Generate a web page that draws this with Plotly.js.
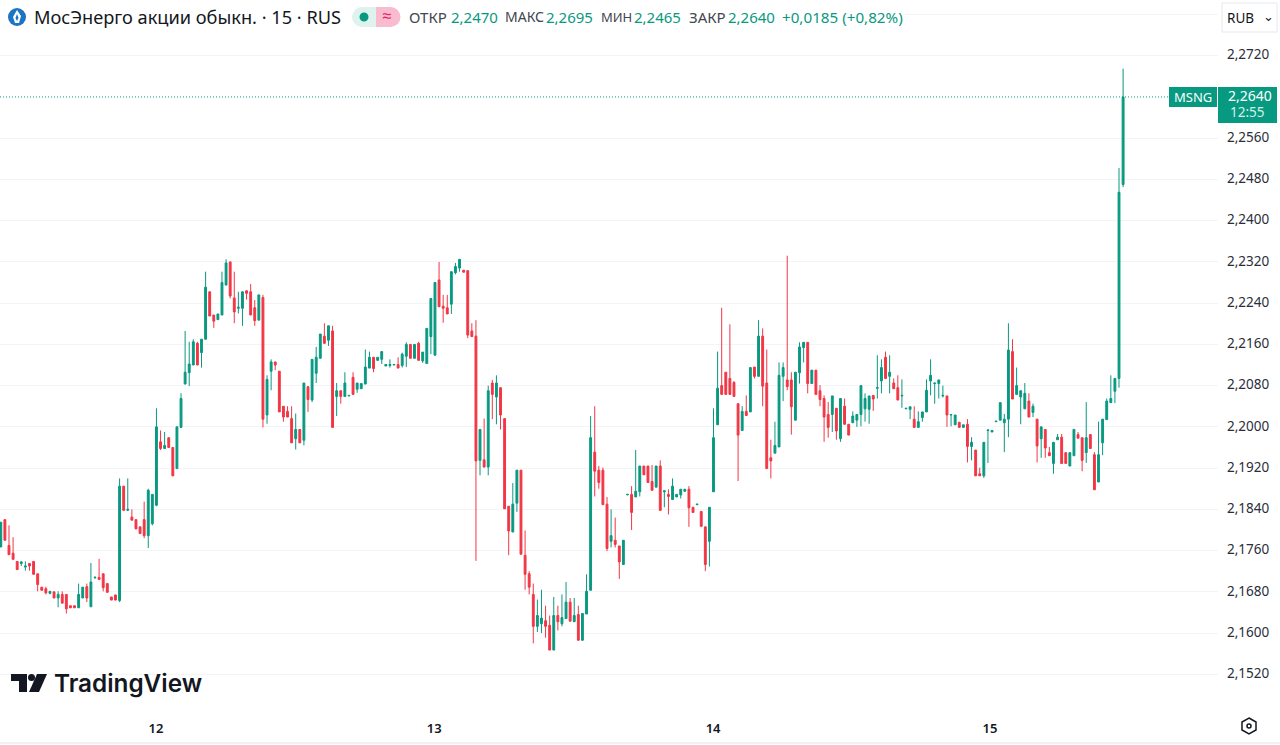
<!DOCTYPE html>
<html><head><meta charset="utf-8">
<script src="https://cdn.plot.ly/plotly-3.0.1.min.js"></script>
<style>html,body{margin:0;padding:0;background:#fff;overflow:hidden}#c{width:1280px;height:745px}</style>
</head><body><div id="c"></div>
<script>
const opens=[
2.1767,2.1820,2.1770,2.1755,2.1739,2.1735,2.1728,2.1735,2.1739,2.1715,
2.1689,2.1686,2.1677,2.1680,2.1668,2.1675,2.1675,2.1653,2.1653,2.1649,
2.1668,2.1690,2.1651,2.1707,2.1708,2.1715,2.1696,2.1670,2.1674,2.1663,
2.1885,2.1838,2.1825,2.1820,2.1806,2.1820,2.1789,2.1812,2.1848,2.1971,
2.1958,2.1979,2.1960,2.1919,2.1999,2.2083,2.2105,2.2120,2.2162,2.2144,
2.2170,2.2262,2.2217,2.2208,2.2217,2.2275,2.2320,2.2250,2.2230,2.2230,
2.2264,2.2262,2.2231,2.2207,2.2251,2.2023,2.2108,2.2126,2.2108,2.2040,
2.2030,2.2016,2.1977,2.1995,2.1974,2.2078,2.2052,2.2104,2.2133,2.2176,
2.2168,2.2186,2.2059,2.2070,2.2059,2.2060,2.2096,2.2073,2.2074,2.2083,
2.2114,2.2135,2.2129,2.2131,2.2118,2.2119,2.2120,2.2121,2.2119,2.2137,
2.2160,2.2133,2.2162,2.2128,2.2123,2.2175,2.2139,2.2285,2.2234,2.2231,
2.2238,2.2299,2.2308,2.2304,2.2303,2.2186,2.2176,2.1935,2.1936,2.1922,
2.2085,2.2058,2.2076,2.2016,2.1846,2.1796,2.1852,2.1916,2.1751,2.1715,
2.1675,2.1613,2.1618,2.1624,2.1615,2.1567,2.1634,2.1618,2.1628,2.1660,
2.1622,2.1636,2.1586,2.1637,2.1683,2.1951,2.1916,2.1916,2.1850,2.1778,
2.1780,2.1769,2.1733,2.1868,2.1869,2.1864,2.1874,2.1924,2.1924,2.1894,
2.1883,2.1924,2.1874,2.1869,2.1859,2.1864,2.1868,2.1875,2.1879,2.1844,
2.1849,2.1836,2.1806,2.1778,2.1874,2.2004,2.2080,2.2106,2.2094,2.2086,
2.2045,2.1993,2.2030,2.2029,2.2116,2.2098,2.2176,2.2085,2.1940,2.1949,
2.1961,2.2098,2.2091,2.2091,2.2013,2.2105,2.2154,2.2164,2.2084,2.2110,
2.2070,2.2055,2.2024,2.2024,2.2036,2.1977,2.2040,2.2005,2.2008,2.2013,
2.2024,2.2035,2.2034,2.2061,2.2075,2.2089,2.2135,2.2098,2.2085,2.2076,
2.2060,2.2035,2.2034,2.2015,2.1999,2.2018,2.2029,2.2089,2.2084,2.2084,
2.2060,2.2060,2.2023,2.2004,2.2009,2.1999,2.2005,2.1962,2.1955,2.1909,
2.1905,2.1993,2.1990,2.2010,2.2013,2.2008,2.2015,2.2146,2.2063,2.2058,
2.2035,2.2050,2.2028,2.2015,2.1977,2.1995,2.1950,2.1929,2.1975,2.1980,
2.1950,2.1924,2.1944,2.1985,2.1979,2.1950,2.1985,2.1946,2.1893,2.1969,
2.2014,2.2047,2.2069,2.2094,2.2470];
const highs=[
2.1815,2.1820,2.1809,2.1786,2.1739,2.1739,2.1739,2.1735,2.1739,2.1715,
2.1689,2.1690,2.1681,2.1680,2.1681,2.1681,2.1675,2.1653,2.1653,2.1696,
2.1689,2.1696,2.1736,2.1710,2.1744,2.1715,2.1696,2.1670,2.1674,2.1900,
2.1885,2.1900,2.1840,2.1820,2.1806,2.1855,2.1880,2.1869,2.2036,2.1993,
2.1990,2.1979,2.1960,2.2000,2.2065,2.2186,2.2165,2.2170,2.2165,2.2170,
2.2301,2.2262,2.2217,2.2219,2.2301,2.2325,2.2320,2.2301,2.2262,2.2262,
2.2264,2.2277,2.2246,2.2256,2.2256,2.2100,2.2131,2.2126,2.2108,2.2040,
2.2040,2.2040,2.2026,2.1995,2.2085,2.2078,2.2131,2.2155,2.2180,2.2201,
2.2196,2.2196,2.2085,2.2070,2.2106,2.2061,2.2106,2.2085,2.2084,2.2150,
2.2146,2.2135,2.2135,2.2146,2.2121,2.2131,2.2121,2.2135,2.2144,2.2164,
2.2160,2.2160,2.2165,2.2145,2.2191,2.2249,2.2280,2.2320,2.2256,2.2256,
2.2301,2.2318,2.2325,2.2304,2.2303,2.2201,2.2207,2.1995,2.2016,2.2080,
2.2091,2.2100,2.2076,2.2016,2.1846,2.1891,2.1916,2.1916,2.1799,2.1720,
2.1696,2.1665,2.1684,2.1653,2.1634,2.1670,2.1653,2.1675,2.1699,2.1668,
2.1668,2.1653,2.1638,2.1714,2.2021,2.2040,2.1924,2.1921,2.1864,2.1840,
2.1824,2.1769,2.1780,2.1869,2.1885,2.1955,2.1924,2.1924,2.1924,2.1926,
2.1924,2.1935,2.1876,2.1879,2.1900,2.1869,2.1879,2.1879,2.1885,2.1844,
2.1850,2.1836,2.1806,2.1844,2.2036,2.2146,2.2231,2.2106,2.2199,2.2089,
2.2045,2.2040,2.2061,2.2115,2.2116,2.2207,2.2191,2.2150,2.1975,2.2010,
2.2125,2.2125,2.2332,2.2106,2.2106,2.2164,2.2164,2.2164,2.2110,2.2110,
2.2081,2.2061,2.2048,2.2060,2.2036,2.2055,2.2055,2.2005,2.2030,2.2024,
2.2080,2.2065,2.2060,2.2061,2.2139,2.2131,2.2146,2.2139,2.2094,2.2100,
2.2092,2.2036,2.2039,2.2040,2.2030,2.2029,2.2092,2.2131,2.2085,2.2091,
2.2080,2.2060,2.2024,2.2023,2.2009,2.2004,2.2015,2.1980,2.1955,2.1921,
2.1970,2.1994,2.1993,2.2011,2.2047,2.2025,2.2201,2.2170,2.2115,2.2070,
2.2085,2.2065,2.2045,2.2015,2.2000,2.1995,2.1961,2.1970,2.1986,2.1986,
2.1950,2.1950,2.1995,2.1990,2.1979,2.2048,2.1985,2.1951,2.2010,2.2015,
2.2055,2.2100,2.2094,2.2502,2.2695];
const lows=[
2.1767,2.1780,2.1752,2.1743,2.1723,2.1730,2.1721,2.1721,2.1714,2.1681,
2.1683,2.1675,2.1675,2.1668,2.1650,2.1658,2.1638,2.1649,2.1649,2.1649,
2.1668,2.1660,2.1651,2.1706,2.1704,2.1681,2.1679,2.1664,2.1664,2.1660,
2.1838,2.1838,2.1819,2.1802,2.1793,2.1784,2.1765,2.1809,2.1846,2.1955,
2.1958,2.1960,2.1905,2.1919,2.1999,2.2083,2.2079,2.2120,2.2120,2.2115,
2.2170,2.2215,2.2192,2.2208,2.2217,2.2275,2.2249,2.2201,2.2220,2.2196,
2.2247,2.2217,2.2196,2.2207,2.1999,2.2006,2.2071,2.2110,2.2029,2.2010,
2.2019,2.1969,2.1956,2.1969,2.1964,2.2029,2.2048,2.2085,2.2133,2.2162,
2.2157,2.1999,2.2021,2.2045,2.2059,2.2060,2.2063,2.2066,2.2074,2.2083,
2.2114,2.2106,2.2129,2.2122,2.2118,2.2115,2.2120,2.2114,2.2115,2.2116,
2.2133,2.2133,2.2129,2.2124,2.2123,2.2141,2.2139,2.2233,2.2202,2.2219,
2.2219,2.2296,2.2301,2.2300,2.2172,2.2175,2.1740,2.1906,2.1922,2.1906,
2.2015,2.2005,2.1995,2.1841,2.1751,2.1796,2.1835,2.1753,2.1684,2.1675,
2.1580,2.1602,2.1600,2.1591,2.1567,2.1567,2.1605,2.1613,2.1628,2.1623,
2.1622,2.1586,2.1586,2.1637,2.1683,2.1865,2.1880,2.1849,2.1759,2.1766,
2.1766,2.1705,2.1733,2.1868,2.1800,2.1864,2.1865,2.1907,2.1892,2.1877,
2.1883,2.1838,2.1844,2.1830,2.1859,2.1864,2.1861,2.1875,2.1806,2.1834,
2.1849,2.1807,2.1720,2.1729,2.1874,2.2004,2.2063,2.2063,2.2063,2.2059,
2.1895,2.1993,2.2022,2.2029,2.2094,2.2098,2.2040,2.1919,2.1900,2.1949,
2.1961,2.2050,2.2071,2.1985,2.2013,2.2084,2.2125,2.2065,2.2084,2.2063,
2.2040,2.1971,2.1979,2.1990,2.1975,2.1971,2.2005,2.1984,2.2008,2.2000,
2.2001,2.2010,2.2006,2.2031,2.2055,2.2065,2.2094,2.2065,2.2074,2.2052,
2.2037,2.2035,2.2015,2.1999,2.1999,2.2010,2.2029,2.2061,2.2045,2.2055,
2.2057,2.2000,2.2001,2.2004,2.1999,2.1999,2.1931,2.1935,2.1905,2.1905,
2.1901,2.1930,2.1990,2.2010,2.2013,2.1951,2.1980,2.2054,2.2063,2.2005,
2.2035,2.2019,2.2019,2.1931,2.1940,2.1940,2.1944,2.1909,2.1975,2.1929,
2.1929,2.1924,2.1944,2.1978,2.1914,2.1930,2.1958,2.1878,2.1893,2.1945,
2.2014,2.2047,2.2046,2.2076,2.2465];
const closes=[
2.1815,2.1780,2.1752,2.1743,2.1723,2.1738,2.1730,2.1730,2.1714,2.1694,
2.1683,2.1678,2.1681,2.1668,2.1675,2.1658,2.1647,2.1649,2.1649,2.1675,
2.1689,2.1668,2.1699,2.1708,2.1704,2.1688,2.1679,2.1664,2.1664,2.1885,
2.1838,2.1840,2.1819,2.1802,2.1793,2.1789,2.1877,2.1869,2.2000,2.1958,
2.1964,2.1960,2.1905,2.2000,2.2055,2.2106,2.2122,2.2165,2.2120,2.2170,
2.2271,2.2215,2.2205,2.2219,2.2280,2.2318,2.2254,2.2223,2.2232,2.2262,
2.2259,2.2217,2.2206,2.2256,2.2015,2.2092,2.2126,2.2120,2.2029,2.2019,
2.2019,2.1969,2.1995,2.1969,2.2085,2.2053,2.2131,2.2135,2.2180,2.2162,
2.2196,2.1999,2.2070,2.2059,2.2085,2.2061,2.2063,2.2085,2.2084,2.2116,
2.2135,2.2113,2.2135,2.2146,2.2121,2.2121,2.2121,2.2114,2.2141,2.2160,
2.2133,2.2160,2.2129,2.2145,2.2191,2.2249,2.2280,2.2233,2.2230,2.2219,
2.2301,2.2311,2.2325,2.2300,2.2178,2.2175,2.1934,2.1995,2.1922,2.2070,
2.2063,2.2085,2.2023,2.1841,2.1798,2.1850,2.1916,2.1753,2.1714,2.1689,
2.1613,2.1634,2.1629,2.1613,2.1567,2.1634,2.1622,2.1630,2.1660,2.1623,
2.1634,2.1586,2.1638,2.1681,2.1979,2.1914,2.1892,2.1849,2.1764,2.1789,
2.1772,2.1738,2.1780,2.1869,2.1834,2.1875,2.1924,2.1907,2.1892,2.1877,
2.1924,2.1838,2.1876,2.1865,2.1885,2.1869,2.1879,2.1879,2.1843,2.1834,
2.1850,2.1807,2.1733,2.1844,2.1979,2.2075,2.2063,2.2063,2.2063,2.2059,
2.1984,2.2030,2.2022,2.2115,2.2098,2.2176,2.2079,2.1919,2.1934,2.1964,
2.2100,2.2115,2.2078,2.2039,2.2106,2.2155,2.2164,2.2084,2.2110,2.2063,
2.2053,2.2019,2.1999,2.2060,2.1992,2.2055,2.2005,2.1984,2.2021,2.2024,
2.2080,2.2055,2.2060,2.2054,2.2076,2.2115,2.2094,2.2106,2.2074,2.2052,
2.2061,2.2036,2.2039,2.1999,2.2010,2.2029,2.2071,2.2100,2.2085,2.2091,
2.2061,2.2023,2.2024,2.2023,2.1999,2.2004,2.1962,2.1970,2.1905,2.1905,
2.1970,2.1994,2.1993,2.2011,2.2047,2.2015,2.2149,2.2054,2.2080,2.2070,
2.2065,2.2019,2.2040,2.1963,2.2000,2.1959,2.1944,2.1970,2.1980,2.1929,
2.1929,2.1950,2.1995,2.1978,2.1935,2.1979,2.1958,2.1878,2.1946,2.2015,
2.2050,2.2055,2.2094,2.2455,2.2640];
const dayLabels=['12','13','14','15'];
const dayBars=[37.9,105.8,173.9,241.5];
const priceTicks=[2.152,2.160,2.168,2.176,2.184,2.192,2.200,2.208,2.216,2.224,2.232,2.240,2.248,2.256,2.272];
const upperGrid=2.280;
const lastPrice=2.2640;

const W=1280,H=745,PW=1218,PH=716;
const GREEN='#089981',RED='#f23645',INK='#131722',GREY='#434651';
const font='"Noto Sans", "Open Sans", sans-serif';
const X=p=>p/PW, Y=p=>1-p/PH;
const PX=(x,y)=>X(x).toFixed(5)+','+Y(y).toFixed(5);
const bars=opens.map((_,i)=>i);

function txt(x,y,text,size,color,extra){
  return Object.assign({xref:'paper',yref:'paper',x:X(x),y:Y(y),text:text,showarrow:false,xanchor:'left',yanchor:'middle',
    font:{family:font,size:size,color:color},borderpad:0},extra||{});
}
function rect(x0,y0,x1,y1,fill,line){
  return {type:'rect',xref:'paper',yref:'paper',x0:X(x0),x1:X(x1),y0:Y(y0),y1:Y(y1),fillcolor:fill,line:{width:line?1:0,color:line||fill},layer:'above'};
}
function circ(cx,cy,r,fill,line){
  return {type:'circle',xref:'paper',yref:'paper',x0:X(cx-r),x1:X(cx+r),y0:Y(cy-r),y1:Y(cy+r),fillcolor:fill,line:{width:line?1.5:0,color:line||fill},layer:'above'};
}
function poly(pts,fill,line){
  return {type:'path',xref:'paper',yref:'paper',path:'M'+pts.map(p=>PX(p[0],p[1])).join('L')+'Z',fillcolor:fill,line:{width:line?1.5:0,color:line||fill},layer:'above'};
}

const shapes=[
  {type:'line',xref:'paper',yref:'y',x0:0,x1:1,y0:upperGrid,y1:upperGrid,line:{color:'#f3f4f6',width:1},layer:'below'},
  {type:'line',xref:'paper',yref:'y',x0:0,x1:1,y0:lastPrice,y1:lastPrice,line:{color:GREEN,width:1,dash:'1px,2px'},layer:'below'},
  rect(0,1,905,32,'#ffffff'),
  circ(17,17,9,'#1c74c4'),
  poly([[17,10],[21,16],[19,23],[15,23],[13,17]],'#ffffff'),
  poly([[17,14],[18.5,18],[17,21],[15.5,18]],'#1c74c4'),
  circ(362,17,10,'#def2ee'),
  rect(362,7,376,27,'#def2ee'),
  rect(376,7,391,27,'#f8bbd0'),
  circ(390.5,17,10,'#f8bbd0'),
  circ(364,17,4.5,GREEN),
  rect(1222,3,1277,32,'#ffffff','#e6e8ee'),
  rect(1169,87,1217,107,GREEN),
  rect(1218,87,1277,123,GREEN),
  poly([[11,674],[27,674],[27,692],[19,692],[19,681],[11,681]],'#131722'),
  circ(31.5,677.5,3.5,'#131722'),
  poly([[37,674],[47,674],[39,692],[29,692]],'#131722'),
  poly([[1249,718],[1256,722],[1256,730],[1249,734],[1242,730],[1242,722]],'#ffffff','#131722'),
  circ(1249,726,2,'#ffffff','#131722'),
  {type:'line',xref:'paper',yref:'paper',x0:0,x1:1280/PW,y0:Y(743),y1:Y(743),line:{color:'#e0e3eb',width:1},layer:'above'}
];

const annotations=[
  txt(33,17,'МосЭнерго акции обыкн. · 15 · RUS',18.2,INK),
  txt(387,16,'≈',17,'#e91e63',{xanchor:'center'}),
  txt(408,17,'ОТКР',15,GREY),txt(450,17,'2,2470',15,GREEN),
  txt(504,17,'МАКС',14,GREY),txt(545,17,'2,2695',15,GREEN),
  txt(600,17,'МИН',13,GREY),txt(633,17,'2,2465',15,GREEN),
  txt(688,17,'ЗАКР',15,GREY),txt(727,17,'2,2640',15,GREEN),
  txt(781,17,'+0,0185 (+0,82%)',15.2,GREEN),
  txt(1226,18,'RUB',13.5,INK),
  txt(1268,16,'⌄',13,INK,{xanchor:'center'}),
  txt(1193,97,'MSNG',13,'#ffffff',{xanchor:'center'}),
  txt(1250,96,'2,2640',14,'#ffffff',{xanchor:'center'}),
  txt(1247,112,'12:55',13.5,'#d5efe9',{xanchor:'center'}),
  txt(53,683,'TradingView',24.3,'#131722',{font:{family:'Inter, "Noto Sans", sans-serif',size:24.3,color:'#131722',weight:600}})
];

const trace={type:'candlestick',x:bars,open:opens,high:highs,low:lows,close:closes,
  whiskerwidth:0,
  increasing:{line:{color:GREEN,width:1},fillcolor:GREEN},
  decreasing:{line:{color:RED,width:1},fillcolor:RED},
  hoverinfo:'skip',showlegend:false};

const layout={
  width:W,height:H,margin:{l:0,r:W-PW,t:0,b:H-PH,pad:0},
  paper_bgcolor:'#fff',plot_bgcolor:'#fff',separators:',.',showlegend:false,boxgap:0.35,
  font:{family:font,color:INK},
  xaxis:{type:'linear',range:[(0-0.8)/4.096,(PW-0.8)/4.096],rangeslider:{visible:false},showgrid:false,zeroline:false,showline:false,
    tickmode:'array',tickvals:dayBars,ticktext:dayLabels,ticks:'',
    tickfont:{family:font,size:13,color:INK,weight:600},ticklabelstandoff:3},
  yaxis:{side:'right',range:[2.272-(PH-55.7)/5155,2.272+55.7/5155],tickmode:'array',tickvals:priceTicks,tickformat:'.4f',
    showgrid:true,gridcolor:'#f3f4f6',gridwidth:1,zeroline:false,showline:false,ticks:'',ticklabelposition:'outside',
    tickfont:{family:font,size:13.5,color:'#2a2e39'},ticklabelstandoff:8,ticklabelshift:-1},
  shapes:shapes,annotations:annotations
};
Plotly.newPlot('c',[trace],layout,{displayModeBar:false,staticPlot:true});
</script></body></html>
